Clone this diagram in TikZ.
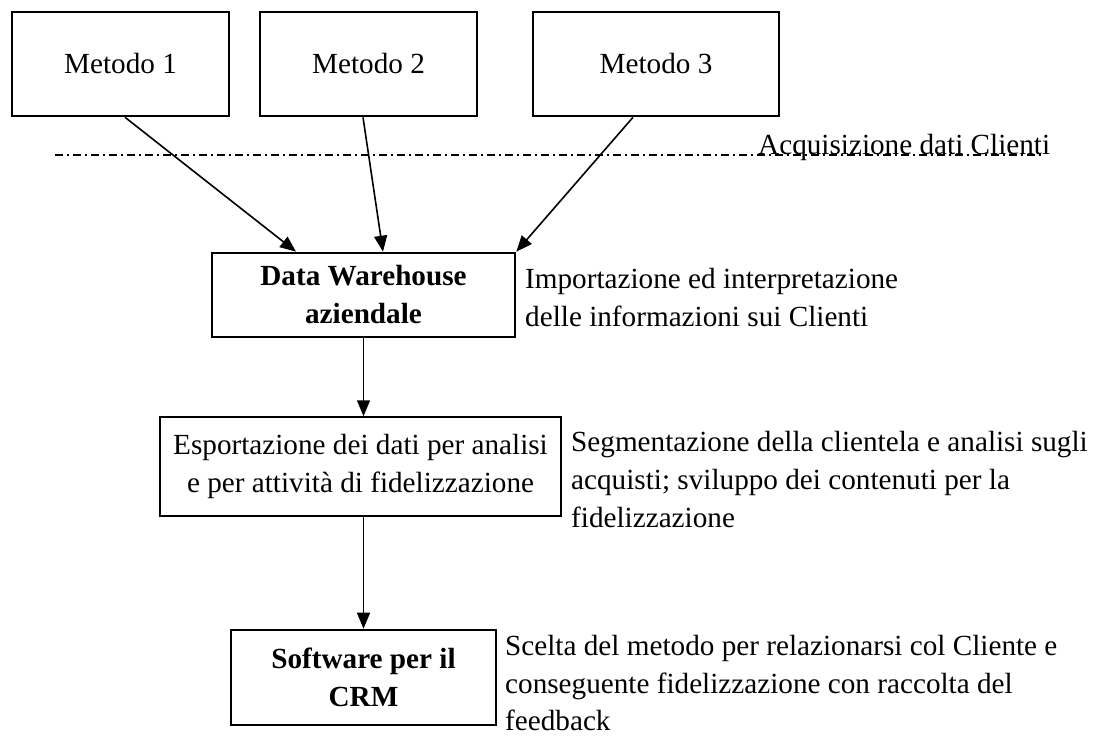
\documentclass[tikz,border=0pt]{standalone}
\usepackage{fontspec}
\setmainfont{Liberation Serif}
\usetikzlibrary{arrows.meta}
\begin{document}
\begin{tikzpicture}[x=1pt,y=-1pt,
  every node/.style={font=\fontsize{29.2}{38}\selectfont},
  thickbox/.style={draw,line width=2.6pt,inner sep=0pt,align=center},
  thinbox/.style={draw,line width=1.5pt,inner sep=0pt,align=center},
  note/.style={anchor=west,align=left,inner sep=0pt},
  arr/.style={line width=1.6pt,-{Triangle[length=16pt,width=13pt]}}]
\useasboundingbox (0,0) rectangle (1093,738);
% sources
\node[thickbox,minimum width=217pt,minimum height=104pt] (m1) at (120.5,64) {Metodo 1};
\node[thickbox,minimum width=217pt,minimum height=104pt] (m2) at (368.5,64) {Metodo 2};
\node[thickbox,minimum width=246pt,minimum height=104pt] (m3) at (656,64) {Metodo 3};
\draw[line width=1.3pt,dash pattern=on 8pt off 4pt on 2pt off 4pt] (55,155) coordinate (l0) -- (1041,155) coordinate (l1);
\node[anchor=base west,inner sep=0pt] (acq) at (758,155) {Acquisizione dati Clienti};
% flow
\node[thickbox,minimum width=303pt,minimum height=84pt] (dw) at (363.5,295) {\textbf{Data Warehouse}\\\textbf{aziendale}};
\node[thinbox,minimum width=401pt,minimum height=99pt] (esp) at (360.5,466.5) {Esportazione dei dati per analisi\\e per attività di fidelizzazione};
\node[thickbox,minimum width=265pt,minimum height=95pt] (sw) at (363.5,677.5) {\textbf{Software per il}\\\textbf{CRM}};
\draw[arr] ([xshift=4.5pt]m1.south) -- ([xshift=-67.5pt]dw.north);
\draw[arr] ([xshift=-5.5pt]m2.south) -- ([xshift=19.5pt]dw.north);
\draw[arr] ([xshift=-23pt]m3.south) -- (dw.north east);
\draw[arr] (dw.south) -- (dw.south |- esp.north);
\draw[arr] (sw.north |- esp.south) -- (sw.north);
% notes
\node[note] (n1) at (525,298) {Importazione ed interpretazione\\delle informazioni sui Clienti};
\node[note] (n2) at (571,480) {Segmentazione della clientela e analisi sugli\\acquisti; sviluppo dei contenuti per la\\fidelizzazione};
\node[note,font=\fontsize{29.2}{37.5}\selectfont] (n3) at (505,683.5) {Scelta del metodo per relazionarsi col Cliente e\\conseguente fidelizzazione con raccolta del\\feedback};
\end{tikzpicture}
\end{document}
